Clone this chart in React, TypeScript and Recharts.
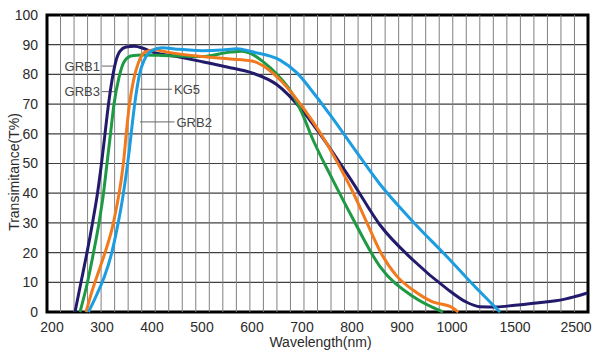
import { LineChart, Line, XAxis, YAxis, CartesianGrid, ReferenceArea, ReferenceLine, ReferenceDot } from 'recharts';

// wavelength tick labels (the axis is squeezed past 1000 nm)
const xTicks = [200, 300, 400, 500, 600, 700, 800, 900, 1000, 1500, 2500];
const yTicks = [0, 10, 20, 30, 40, 50, 60, 70, 80, 90, 100];

// [wavelength nm, transmittance %]
const grb1 = [
  [246, 0], [258, 10], [270, 20], [281, 30], [291, 40], [299, 50], [306, 60], [313, 70], [320, 78],
  [327, 84], [336, 87.8], [348, 89.2], [365, 89.5], [382, 88.8], [400, 87.6], [450, 86], [500, 84.3],
  [550, 82.5], [600, 80.5], [650, 76.5], [700, 68], [740, 59], [800, 44], [856, 29.3], [922, 17.5],
  [990, 7.8], [1111, 3.4], [1222, 1.8], [1350, 1.7], [1500, 2.3], [2000, 3.4], [2238, 4], [2500, 5.3], [2690, 6.4],
];
const grb3 = [
  [256, 0], [271, 10], [283, 20], [294, 30], [303, 40], [310, 50], [317, 60], [324, 70], [334, 79],
  [345, 84.5], [360, 86.3], [380, 86.5], [420, 86.4], [500, 86], [556, 87.5], [580, 87.8], [600, 86.8],
  [622, 84.3], [650, 80], [676, 74.7], [700, 67], [722, 58], [760, 45], [800, 32], [856, 15.3],
  [922, 5.2], [982, 0],
];
const kg5 = [
  [268, 0], [280, 7], [294, 14], [308, 21], [320, 28], [330, 36], [338, 44], [344, 52], [349, 61],
  [355, 70], [363, 78], [373, 84], [386, 87.5], [405, 88.3], [430, 87.5], [500, 86], [556, 85.2],
  [600, 84.5], [630, 82], [660, 77.5], [690, 71.5], [720, 64.5], [752, 56], [780, 47.5], [800, 41],
  [830, 30], [856, 20.5], [890, 12], [922, 7.4], [960, 3.5], [1000, 1.5], [1050, 0],
];
const grb2 = [
  [273, 0], [290, 6], [305, 12], [318, 19], [330, 28], [340, 37], [348, 46], [355, 55], [361, 64],
  [367, 72], [375, 80], [385, 85], [400, 88], [420, 89], [450, 88.5], [500, 88], [540, 88.2],
  [570, 88.6], [600, 87.6], [656, 84.8], [690, 80.5], [722, 74], [760, 65.5], [800, 56], [856, 43],
  [922, 30.4], [990, 18.6], [1222, 6.8], [1381, 0],
];

const series = [
  { name: 'GRB1', color: '#221a6a', data: grb1 },
  { name: 'GRB3', color: '#1d9a43', data: grb3 },
  { name: 'KG5', color: '#f27a1e', data: kg5 },
  { name: 'GRB2', color: '#1c9de0', data: grb2 },
];

// label, transmittance, leader from / to (nm), which side the text sits
const callouts = [
  { name: 'GRB1', t: 82.8, from: 300, to: 322, side: 'left' },
  { name: 'GRB3', t: 74.2, from: 300, to: 330, side: 'left' },
  { name: 'KG5', t: 75, from: 376, to: 440, side: 'right' },
  { name: 'GRB2', t: 64, from: 376, to: 445, side: 'right' },
];

// linear up to 1000 nm, then two compressed segments
const pos = (w: number) => {
  if (w <= 1000) return (w - 200) / 100;
  if (w <= 1500) return 8 + ((w - 1000) / 500) * 1.26;
  return 9.26 + ((w - 1500) / 1000) * 1.22;
};

const toPoints = (s: number[][]) => s.map(([w, t]) => ({ x: pos(w), t }));

const X_DOMAIN = [-0.1, 10.72];
// 40 even columns across the frame, independent of the wavelength labels
const colStep = (X_DOMAIN[1] - X_DOMAIN[0]) / 40;
const gridCols = Array.from({ length: 39 }, (_, i) => X_DOMAIN[0] + (i + 1) * colStep);
const font = "'Liberation Sans', Arial, sans-serif";

export default function App() {
  return (
    <div style={{ position: 'absolute', left: 0, top: 0, background: '#fff' }}>
      <LineChart width={600} height={355} margin={{ top: 15, right: 12, bottom: 0, left: 0 }}>
        <XAxis
          xAxisId="w"
          type="number"
          dataKey="x"
          domain={X_DOMAIN}
          ticks={xTicks.map(pos)}
          interval={0}
          tickFormatter={(v, i) => String(xTicks[i])}
          height={43}
          axisLine={false}
          tickLine={false}
          tickMargin={4}
          tick={{ fill: '#2b2b2b', fontSize: 14, fontFamily: font }}
          label={({ viewBox }: any) => (
            <text
              x={viewBox.x + viewBox.width / 2 + 3}
              y={viewBox.y + 35}
              textAnchor="middle"
              fill="#2b2b2b"
              fontSize={14}
              fontFamily={font}
            >
              Wavelength(nm)
            </text>
          )}
        />
        <YAxis
          type="number"
          domain={[0, 100]}
          ticks={yTicks}
          interval={0}
          width={47}
          axisLine={false}
          tickLine={false}
          tickMargin={3}
          tick={{ fill: '#2b2b2b', fontSize: 14, fontFamily: font }}
          label={() => (
            <text
              x={14}
              y={172}
              transform="rotate(-90 14 172)"
              textAnchor="middle"
              dominantBaseline="central"
              fill="#2b2b2b"
              fontSize={14}
              fontFamily={font}
            >
              Transimitance(T%)
            </text>
          )}
        />
        <CartesianGrid xAxisId="w" vertical={false} stroke="#404040" strokeWidth={1.2} />
        {gridCols.map((c, i) => (
          <ReferenceLine key={'col' + i} xAxisId="w" x={c} stroke="#808080" strokeWidth={1} />
        ))}

        {callouts.map((c) => (
          <ReferenceLine
            key={c.name + '-line'}
            xAxisId="w"
            segment={[{ x: pos(c.from), y: c.t }, { x: pos(c.to), y: c.t }]}
            stroke="#666"
            strokeWidth={1}
          />
        ))}
        {callouts.map((c) => (
          <ReferenceDot
            key={c.name + '-text'}
            xAxisId="w"
            x={pos(c.side === 'left' ? c.from : c.to)}
            y={c.t}
            r={0}
            fill="none"
            stroke="none"
            label={{
              value: c.name,
              position: c.side,
              offset: 2,
              fill: '#444',
              fontSize: 13,
              fontFamily: font,
            }}
          />
        ))}

        <ReferenceArea
          xAxisId="w"
          x1={X_DOMAIN[0]}
          x2={X_DOMAIN[1]}
          y1={0}
          y2={100}
          fill="none"
          fillOpacity={0}
          stroke="#000"
          strokeWidth={3}
          ifOverflow="visible"
        />

        {series.map((s) => (
          <Line
            key={s.name}
            xAxisId="w"
            data={toPoints(s.data)}
            dataKey="t"
            name={s.name}
            type="monotone"
            stroke={s.color}
            strokeWidth={3}
            dot={false}
            activeDot={false}
            isAnimationActive={false}
          />
        ))}
      </LineChart>
    </div>
  );
}
